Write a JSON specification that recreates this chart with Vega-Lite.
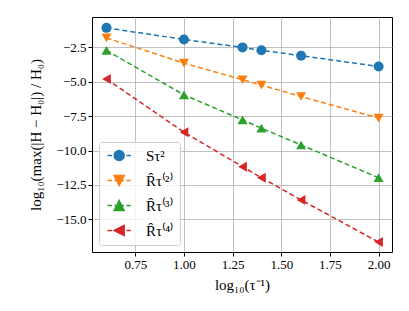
{
  "$schema": "https://vega.github.io/schema/vega-lite/v6.json",
  "width": 300,
  "height": 235,
  "autosize": {"type": "none"},
  "padding": {"left": 92, "top": 17, "right": 17, "bottom": 59},
  "background": "white",
  "config": {
    "font": "Liberation Serif",
    "view": {"stroke": "black", "strokeWidth": 1},
    "axis": {
      "domain": false,
      "tickColor": "black",
      "tickSize": 4,
      "labelColor": "black",
      "labelFontSize": 13,
      "labelFont": "Liberation Serif",
      "titleFont": "Liberation Serif",
      "titleFontWeight": "normal",
      "titleFontSize": 15,
      "titleColor": "black",
      "gridColor": "#b0b0b0",
      "gridWidth": 0.8
    },
    "legend": {
      "labelFont": "Liberation Serif",
      "labelFontSize": 15,
      "labelColor": "black"
    }
  },
  "data": {
    "values": [
      {"x": 0.602, "y": -1.08, "s": "Sτ²"},
      {"x": 1.0, "y": -1.92, "s": "Sτ²"},
      {"x": 1.301, "y": -2.5, "s": "Sτ²"},
      {"x": 1.398, "y": -2.71, "s": "Sτ²"},
      {"x": 1.602, "y": -3.1, "s": "Sτ²"},
      {"x": 2.0, "y": -3.89, "s": "Sτ²"},
      {"x": 0.602, "y": -1.81, "s": "R̂τ⁽²⁾"},
      {"x": 1.0, "y": -3.64, "s": "R̂τ⁽²⁾"},
      {"x": 1.301, "y": -4.85, "s": "R̂τ⁽²⁾"},
      {"x": 1.398, "y": -5.24, "s": "R̂τ⁽²⁾"},
      {"x": 1.602, "y": -6.07, "s": "R̂τ⁽²⁾"},
      {"x": 2.0, "y": -7.64, "s": "R̂τ⁽²⁾"},
      {"x": 0.602, "y": -2.72, "s": "R̂τ⁽³⁾"},
      {"x": 1.0, "y": -5.95, "s": "R̂τ⁽³⁾"},
      {"x": 1.301, "y": -7.77, "s": "R̂τ⁽³⁾"},
      {"x": 1.398, "y": -8.37, "s": "R̂τ⁽³⁾"},
      {"x": 1.602, "y": -9.59, "s": "R̂τ⁽³⁾"},
      {"x": 2.0, "y": -11.97, "s": "R̂τ⁽³⁾"},
      {"x": 0.602, "y": -4.8, "s": "R̂τ⁽⁴⁾"},
      {"x": 1.0, "y": -8.66, "s": "R̂τ⁽⁴⁾"},
      {"x": 1.301, "y": -11.17, "s": "R̂τ⁽⁴⁾"},
      {"x": 1.398, "y": -11.97, "s": "R̂τ⁽⁴⁾"},
      {"x": 1.602, "y": -13.59, "s": "R̂τ⁽⁴⁾"},
      {"x": 2.0, "y": -16.65, "s": "R̂τ⁽⁴⁾"}
    ]
  },
  "encoding": {
    "x": {
      "field": "x", "type": "quantitative",
      "scale": {"domain": [0.5275, 2.069], "nice": false, "zero": false},
      "axis": {"values": [0.75, 1.0, 1.25, 1.5, 1.75, 2.0], "format": ".2f", "title": "log₁₀(τ⁻¹)", "titlePadding": 6}
    },
    "y": {
      "field": "y", "type": "quantitative",
      "scale": {"domain": [-17.37, -0.29], "nice": false, "zero": false},
      "axis": {"values": [-2.5, -5, -7.5, -10, -12.5, -15], "labelExpr": "replace(format(datum.value, '.1f'), '-', '−')", "title": "log₁₀(max(|H − H₀|) / H₀)", "titlePadding": 12}
    },
    "color": {
      "field": "s", "type": "nominal",
      "scale": {"domain": ["Sτ²", "R̂τ⁽²⁾", "R̂τ⁽³⁾", "R̂τ⁽⁴⁾"], "range": ["#1f77b4", "#ff7f0e", "#2ca02c", "#d62728"]},
      "legend": {
        "title": null, "orient": "bottom-left", "offset": 7,
        "fillColor": "rgba(255,255,255,0.8)", "strokeColor": "#cccccc", "cornerRadius": 3,
        "padding": 6, "rowPadding": 8, "symbolSize": 100, "symbolStrokeWidth": 1.5,
        "symbolOpacity": 1, "labelOffset": 26,
        "encode": {"symbols": {"update": {
          "fill": {"scale": "color", "field": "value"},
          "stroke": {"scale": "color", "field": "value"},
          "opacity": {"value": 1}
        }}}
      }
    }
  },
  "layer": [
    {
      "mark": {"type": "line", "strokeDash": [5, 3], "strokeWidth": 1.5},
      "encoding": {}
    },
    {
      "transform": [{"filter": "datum.s == 'Sτ²'"}],
      "mark": {"type": "point", "filled": true, "size": 100, "opacity": 1, "shape": "circle"},
      "encoding": {}
    },
    {
      "transform": [{"filter": "datum.s == 'R̂τ⁽²⁾'"}],
      "mark": {"type": "point", "filled": true, "size": 100, "opacity": 1, "shape": "triangle-down"},
      "encoding": {}
    },
    {
      "transform": [{"filter": "datum.s == 'R̂τ⁽³⁾'"}],
      "mark": {"type": "point", "filled": true, "size": 100, "opacity": 1, "shape": "triangle-up"},
      "encoding": {}
    },
    {
      "transform": [{"filter": "datum.s == 'R̂τ⁽⁴⁾'"}],
      "mark": {"type": "point", "filled": true, "size": 100, "opacity": 1, "shape": "triangle-left"},
      "encoding": {}
    },
    {
      "mark": {"type": "point", "filled": true, "size": 100, "opacity": 0},
      "encoding": {
        "shape": {
          "field": "s", "type": "nominal",
          "scale": {
            "domain": ["Sτ²", "R̂τ⁽²⁾", "R̂τ⁽³⁾", "R̂τ⁽⁴⁾"],
            "range": [
              "M-1,0H-0.1M0.4,0H2.3M2.8,0H3.67M2.33,0A1,1 0 1,1 0.33,0A1,1 0 1,1 2.33,0Z",
              "M-1,0H-0.1M0.4,0H2.3M2.8,0H3.67M0.33,-1L2.33,-1L1.33,1Z",
              "M-1,0H-0.1M0.4,0H2.3M2.8,0H3.67M1.33,-1L2.33,1L0.33,1Z",
              "M-1,0H-0.1M0.4,0H2.3M2.8,0H3.67M0.33,0L2.33,-1L2.33,1Z"
            ]
          }
        }
      }
    }
  ]
}
